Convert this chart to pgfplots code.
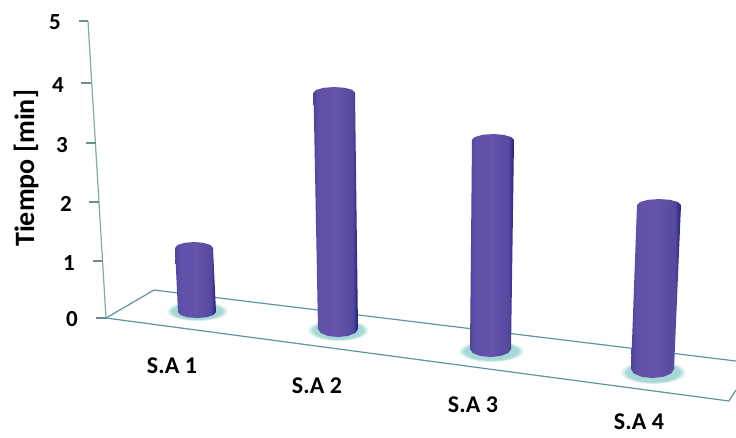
\documentclass[border=0pt]{standalone}
\usepackage{pgfplots}
\pgfplotsset{compat=1.18}
\usepackage{fontspec}
\setmainfont{Carlito}
\definecolor{wallline}{HTML}{7FABA8}
\definecolor{floorline}{HTML}{5E95A0}
\definecolor{halo}{HTML}{A6D8D6}
\definecolor{tickline}{HTML}{6F8F8C}
% Cylinder body: dark rims, lighter violet core, navy on the right
\definecolor{cylA}{HTML}{4B439C}
\definecolor{cylB}{HTML}{5E50A8}
\definecolor{cylC}{HTML}{6653AC}
\definecolor{cylD}{HTML}{55489F}
\definecolor{cylE}{HTML}{1F1F80}
\pgfdeclarehorizontalshading{cylbar}{100bp}{
  color(0bp)=(cylA); color(25bp)=(cylA); color(30bp)=(cylB); color(50bp)=(cylC);
  color(69bp)=(cylD); color(75bp)=(cylE); color(100bp)=(cylE)}
\pgfdeclareradialshading{floorhalo}{\pgfpointorigin}{
  color(0bp)=(halo); color(20bp)=(halo); color(25bp)=(white); color(50bp)=(white)}
\tikzset{
  chartlabel/.style={font=\fontsize{23}{25}\selectfont\bfseries, inner sep=0pt},
  catlabel/.style={font=\fontsize{24}{25}\selectfont\bfseries, inner sep=0pt},
  axistitle/.style={font=\fontsize{28}{30}\selectfont\bfseries, inner sep=0pt, rotate=90},
}
\begin{document}
\begin{tikzpicture}
\useasboundingbox (0,0) rectangle (736pt,437pt);
\fill[white] (0,0) rectangle (736pt,437pt);
\begin{axis}[
  at={(0,0)}, anchor=south west,
  scale only axis, width=736pt, height=437pt,
  xmin=0, xmax=736, ymin=-2.003, ymax=5.354,
  hide axis, clip=false,
]
% Contact shadows on the floor
\path[shading=floorhalo] (axis cs:197,0.118)  ellipse [x radius=31pt, y radius=10pt];
\path[shading=floorhalo] (axis cs:338,-0.202) ellipse [x radius=31pt, y radius=11pt];
\path[shading=floorhalo] (axis cs:491,-0.555) ellipse [x radius=33pt, y radius=11pt];
\path[shading=floorhalo] (axis cs:653,-0.910) ellipse [x radius=33pt, y radius=12pt];

% Wall edge and its ticks
\addplot[wallline, line width=1.2pt] coordinates {(88,5.0) (106,0)};
\addplot[tickline, line width=1.1pt] coordinates {(79,5.0) (88,5.0)};
\addplot[tickline, line width=1.1pt] coordinates {(81,3.956) (91,3.956)};
\addplot[tickline, line width=1.1pt] coordinates {(86,2.946) (96,2.946)};
\addplot[tickline, line width=1.1pt] coordinates {(89,1.953) (99,1.953)};
\addplot[tickline, line width=1.1pt] coordinates {(93,0.960) (103,0.960)};
\addplot[tickline, line width=1.1pt] coordinates {(96,0) (106,0)};

% Floor outline in perspective
\addplot[floorline, line width=1.2pt] coordinates {(106,0) (154,0.471) (736,-0.724)};
\addplot[floorline, line width=1.2pt] coordinates {(106,0) (729,-1.397) (736,-1.212)};

% Cylinders, outlines in minutes
\addplot[shading=cylbar, draw=none] coordinates {
  (175,1.178) (177.5,1.229) (184.5,1.266) (194,1.279) (203.5,1.266) (210.5,1.229) (213,1.178)
  (216,0.101) (213.5,0.051) (206.5,0.013) (197,0) (187.5,0.013) (180.5,0.051) (178,0.101)
} -- cycle;
\addplot[shading=cylbar, draw=none] coordinates {
  (313.5,3.796) (316.3,3.842) (323.9,3.876) (334.25,3.889) (344.6,3.876) (352.2,3.842) (355,3.796)
  (358,-0.185) (355.3,-0.252) (348,-0.302) (338,-0.320) (328,-0.302) (320.7,-0.252) (318,-0.185)
} -- cycle;
\addplot[shading=cylbar, draw=none] coordinates {
  (472,2.997) (474.8,3.047) (482.5,3.084) (493,3.098) (503.5,3.084) (511.2,3.047) (514,2.997)
  (511,-0.522) (508.3,-0.589) (500.75,-0.639) (490.5,-0.657) (480.25,-0.639) (472.7,-0.589) (470,-0.522)
} -- cycle;
\addplot[shading=cylbar, draw=none] coordinates {
  (637,1.902) (640,1.953) (648,1.990) (659,2.003) (670,1.990) (678,1.953) (681,1.902)
  (674,-0.859) (671.1,-0.935) (663.25,-0.990) (652.5,-1.010) (641.75,-0.990) (633.9,-0.935) (631,-0.859)
} -- cycle;

% Tick numbers follow the slanted wall edge
\node[chartlabel] at (axis cs:72,-0.017) {0};
\node[chartlabel] at (axis cs:69,0.926) {1};
\node[chartlabel] at (axis cs:66,1.919) {2};
\node[chartlabel] at (axis cs:62,2.912) {3};
\node[chartlabel] at (axis cs:58,3.923) {4};
\node[chartlabel] at (axis cs:55,4.983) {5};
\node[axistitle] at (axis cs:26,2.52) {Tiempo [min]};

% Category names stepping down along the floor
\node[catlabel] at (axis cs:172,-0.808) {S.A 1};
\node[catlabel] at (axis cs:317,-1.145) {S.A 2};
\node[catlabel] at (axis cs:473,-1.465) {S.A 3};
\node[catlabel] at (axis cs:639,-1.74) {S.A 4};
\end{axis}
\end{tikzpicture}
\end{document}
